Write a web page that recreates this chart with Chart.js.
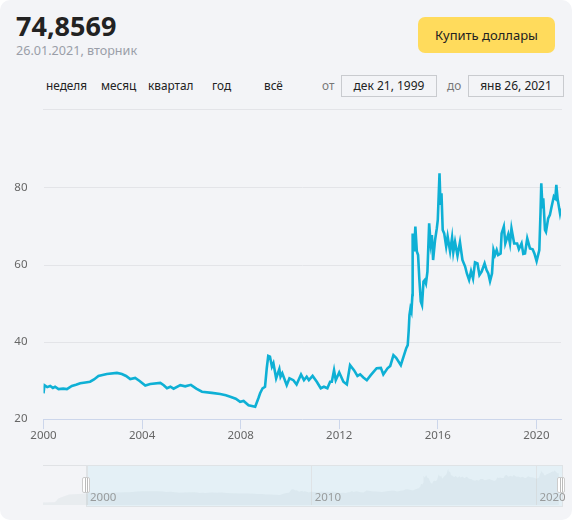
<!DOCTYPE html>
<html>
<head>
<meta charset="utf-8">
<script src="https://cdn.jsdelivr.net/npm/chart.js@4"></script>
<style>
    html, body { margin: 0; padding: 0; background: #fff; }
    #card { position: relative; width: 572px; height: 520px; background: #f3f4f7; border-radius: 10px; overflow: hidden;
        font-family: "Noto Sans", sans-serif; color: #222; }
    #card > * { position: absolute; }
    canvas { display: block; }
    .t { font-size: 11.8px; line-height: 16px; top: 77px; white-space: nowrap; }
    .muted { color: #777; }
    .box { top: 75px; height: 20px; width: 94px; border: 1px solid #c9cbcf; font-size: 12px; line-height: 20px; text-align: center; }
    .handle { top: 477px; width: 6px; height: 14px; border: 1px solid #ccc; border-radius: 2px;
        background: linear-gradient(90deg, #fff 2px, #bbb 2px, #bbb 3px, #fff 3px, #fff 4px, #bbb 4px, #bbb 5px, #fff 5px); }
</style>
</head>
<body>
<div id="card">
    <div style="left:16px;top:7px;font-size:27px;font-weight:700;line-height:38px">74,8569</div>
    <div style="left:16px;top:42px;font-size:12.6px;line-height:18px;color:#9a9ea8">26.01.2021, вторник</div>
    <div style="left:418px;top:17px;width:137px;height:36px;background:#ffdb5c;border-radius:7px;font-size:13px;line-height:36px;text-align:center">Купить доллары</div>
    <div class="t" style="left:46px">неделя</div>
    <div class="t" style="left:101px">месяц</div>
    <div class="t" style="left:148px">квартал</div>
    <div class="t" style="left:212px">год</div>
    <div class="t" style="left:264px">всё</div>
    <div class="t muted" style="left:322px">от</div>
    <div class="box" style="left:341px">дек 21, 1999</div>
    <div class="t muted" style="left:447px">до</div>
    <div class="box" style="left:468px">янв 26, 2021</div>
    <div style="left:43px;top:109px;width:519px;height:1px;background:#e3e4e8"></div>

    <canvas id="mainChart" width="572" height="442" style="left:0;top:0"></canvas>

    <div style="left:43px;top:465px;width:519px;height:1px;background:#e0e2e5"></div>
    <div style="left:86px;top:465px;width:475px;height:40px;background:#e4f0f6;border:1px solid #dfe3e6"></div>
    <canvas id="navChart" width="529" height="40" style="left:43px;top:465px"></canvas>
    <div class="handle" style="left:82px"></div>
    <div class="handle" style="left:557px"></div>
</div>
<script>
    // Decimal year / rate
    const years = [2000.00, 2000.04, 2000.15, 2000.27, 2000.38, 2000.47, 2000.61, 2000.80, 2000.95, 2001.15, 2001.32, 2001.49, 2001.70, 2001.89,
        2002.05, 2002.23, 2002.57, 2002.98, 2003.18, 2003.35, 2003.52, 2003.72, 2003.90, 2004.13, 2004.33, 2004.74, 2004.88, 2005.01, 2005.15, 2005.28,
        2005.55, 2005.75, 2005.98, 2006.20, 2006.43, 2006.83, 2007.17, 2007.40, 2007.58, 2007.80, 2007.98, 2008.12, 2008.32, 2008.59, 2008.72,
        2008.79, 2008.89, 2008.99, 2009.06, 2009.12, 2009.19, 2009.27, 2009.33, 2009.44, 2009.57, 2009.62, 2009.69, 2009.87, 2009.98,
        2010.14, 2010.27, 2010.45, 2010.57, 2010.68, 2010.77, 2010.92, 2011.09, 2011.25, 2011.38, 2011.52, 2011.63, 2011.70, 2011.79,
        2011.86, 2012.00, 2012.17, 2012.31, 2012.44, 2012.60, 2012.74, 2012.85, 2012.98, 2013.12, 2013.28, 2013.52, 2013.69, 2013.79,
        2013.96, 2014.07, 2014.20, 2014.31, 2014.50, 2014.63, 2014.72, 2014.78, 2014.82, 2014.85, 2014.89, 2014.93, 2014.97, 2014.98,
        2015.04, 2015.09, 2015.15, 2015.20, 2015.25, 2015.31, 2015.36, 2015.42, 2015.47, 2015.52, 2015.58, 2015.65, 2015.71, 2015.76,
        2015.81, 2015.89, 2015.96, 2016.00, 2016.07, 2016.11, 2016.15, 2016.20, 2016.26, 2016.34, 2016.40, 2016.50, 2016.58, 2016.63,
        2016.70, 2016.80, 2016.90, 2017.00, 2017.11, 2017.18, 2017.27, 2017.35, 2017.43, 2017.51, 2017.61, 2017.69, 2017.78, 2017.90,
        2017.98, 2018.05, 2018.12, 2018.20, 2018.26, 2018.32, 2018.39, 2018.45, 2018.55, 2018.59, 2018.68, 2018.74, 2018.86, 2018.93,
        2018.99, 2019.10, 2019.22, 2019.29, 2019.40, 2019.47, 2019.54, 2019.63, 2019.74, 2019.85, 2019.92, 2020.01, 2020.12, 2020.17,
        2020.20, 2020.25, 2020.28, 2020.35, 2020.39, 2020.48, 2020.55, 2020.62, 2020.71, 2020.77, 2020.81, 2020.86, 2020.96, 2021.00];
    const rates = [26.7, 28.8, 28.3, 28.6, 28.1, 28.4, 27.8, 27.9, 27.8, 28.6, 28.9, 29.3, 29.5, 29.7,
        30.3, 31.2, 31.7, 32.0, 31.7, 31.2, 30.4, 30.7, 29.9, 28.7, 29.1, 29.4, 28.8, 28.0, 28.4, 27.9,
        28.8, 28.5, 28.9, 27.9, 27.1, 26.8, 26.5, 26.2, 25.8, 25.3, 24.5, 24.7, 23.6, 23.2, 25.4,
        26.7, 28.0, 28.4, 33.2, 36.4, 36.2, 33.6, 34.5, 30.6, 33.0, 31.0, 31.9, 28.8, 30.6,
        30.1, 29.0, 31.6, 30.1, 31.0, 30.1, 31.2, 29.7, 28.0, 28.4, 28.0, 29.7, 29.7, 32.7,
        30.1, 32.1, 29.7, 29.0, 34.0, 32.7, 31.2, 31.6, 30.8, 30.1, 31.4, 33.2, 33.3, 31.6,
        33.2, 33.8, 36.6, 35.9, 34.0, 36.6, 38.4, 39.2, 43.0, 47.0, 48.7, 47.9, 52.2, 68.2,
        63.5, 70.0, 63.5, 62.6, 56.5, 50.5, 49.6, 55.7, 56.1, 55.2, 58.3, 70.8, 65.6, 67.8,
        61.3, 66.5, 69.5, 71.7, 83.8, 75.6, 78.6, 69.1, 68.2, 64.8, 67.4, 63.5, 67.1, 63.3,
        66.0, 62.4, 65.9, 61.3, 59.6, 57.8, 56.1, 58.4, 56.5, 60.7, 60.4, 57.4, 58.3, 60.4,
        58.7, 57.8, 55.8, 57.8, 63.9, 62.6, 63.9, 62.6, 63.0, 68.2, 70.0, 65.6, 68.0, 65.6,
        69.5, 65.6, 65.6, 64.1, 65.6, 62.9, 63.0, 66.9, 64.3, 64.1, 63.0, 61.0, 63.9, 73.9,
        81.2, 74.7, 77.3, 69.1, 68.6, 72.1, 73.0, 75.2, 77.8, 77.3, 80.8, 77.3, 73.4, 74.7];

    // Navigator starts earlier than the main window
    const navPreYears = [1998.04, 1998.55, 1998.62, 1998.72, 1998.95, 1999.2, 1999.6, 1999.95];
    const navPreRates = [5.9, 6.2, 9.0, 15.0, 20.0, 24.5, 25.5, 27.0];

    const xTicks = [2000, 2004, 2008, 2012, 2016, 2020];
    const yTicks = [20, 40, 60, 80];
    const navTicks = [2000, 2010, 2020];

    const lineColor = '#0eb0d5';

    new Chart(document.getElementById('mainChart'), {
        type: 'line',
        data: {
            datasets: [{
                data: years.map((y, i) => ({ x: y, y: rates[i] })),
                borderColor: lineColor,
                borderWidth: 2.6,
                pointRadius: 0,
                tension: 0
            }]
        },
        options: {
            responsive: false,
            animation: false,
            devicePixelRatio: 1,
            layout: { padding: { top: 109, right: 11 } },
            plugins: { legend: { display: false }, tooltip: { enabled: false } },
            scales: {
                x: {
                    type: 'linear',
                    min: 2000,
                    max: 2021,
                    afterFit: s => { s.height = 21; },
                    afterBuildTicks: s => { s.ticks = xTicks.map(v => ({ value: v })); },
                    grid: { drawOnChartArea: false, color: '#ccd6eb', tickLength: 10 },
                    border: { color: '#ccd6eb' },
                    ticks: { maxRotation: 0, padding: 0, color: '#666', font: { family: 'Noto Sans', size: 11.5 }, callback: v => String(v) }
                },
                y: {
                    min: 20,
                    max: 100.5,
                    afterFit: s => { s.width = 43.5; },
                    afterBuildTicks: s => { s.ticks = yTicks.map(v => ({ value: v })); },
                    grid: { color: '#e3e4e8', drawTicks: false },
                    border: { display: false },
                    ticks: { padding: 16, color: '#666', font: { family: 'Noto Sans', size: 11.5 } }
                }
            }
        }
    });

    new Chart(document.getElementById('navChart'), {
        type: 'line',
        data: {
            datasets: [{
                data: navPreYears.concat(years).map((y, i) => ({ x: y, y: navPreRates.concat(rates)[i] })),
                borderWidth: 0,
                backgroundColor: 'rgba(150,170,180,0.11)',
                fill: 'origin',
                pointRadius: 0,
                tension: 0
            }]
        },
        options: {
            responsive: false,
            animation: false,
            devicePixelRatio: 1,
            layout: { padding: { right: 10 } },
            plugins: { legend: { display: false }, tooltip: { enabled: false } },
            scales: {
                x: {
                    type: 'linear',
                    min: 1998.04,
                    max: 2021.14,
                    afterFit: s => { s.height = 0; s.paddingLeft = 0; s.paddingRight = 0; },
                    afterBuildTicks: s => { s.ticks = navTicks.map(v => ({ value: v })); },
                    grid: { color: '#dfe3e6', drawTicks: false },
                    border: { display: false },
                    ticks: { mirror: true, align: 'start', labelOffset: 3, padding: 0, maxRotation: 0, color: '#999', font: { family: 'Noto Sans', size: 11.5 }, callback: v => String(v) }
                },
                y: { display: false, min: 0, max: 93 }
            }
        }
    });
</script>
</body>
</html>
